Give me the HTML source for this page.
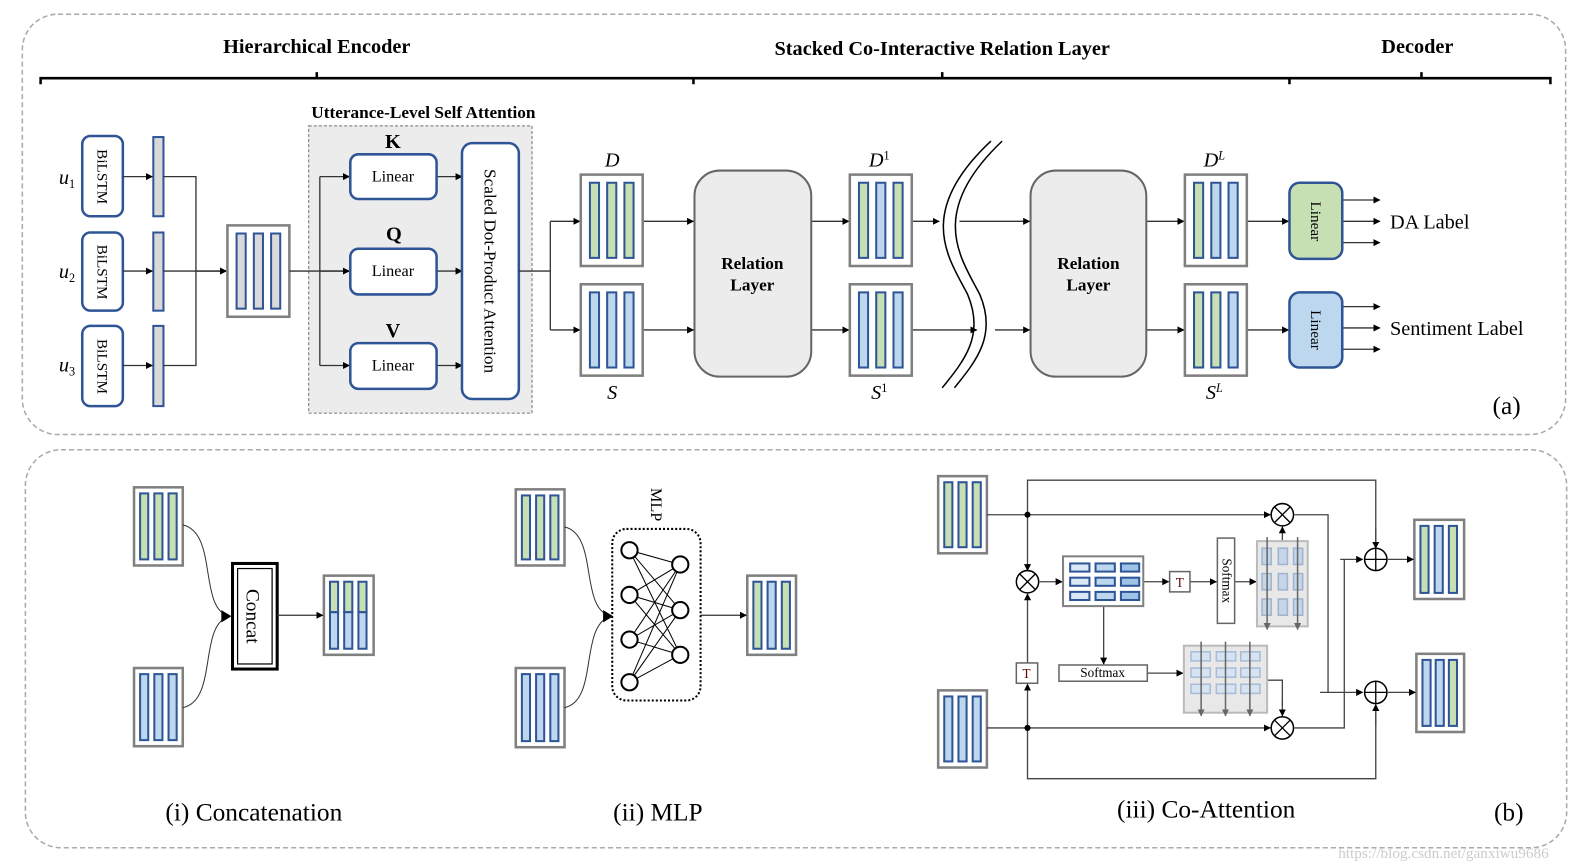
<!DOCTYPE html>
<html><head><meta charset="utf-8"><style>
html,body{margin:0;padding:0;background:#fff;}
svg{display:block;}
text{font-family:"Liberation Serif",serif;}
</style></head><body>
<svg width="1590" height="866" viewBox="0 0 1566 853" preserveAspectRatio="none" xmlns="http://www.w3.org/2000/svg">
<defs>
<marker id="a" viewBox="0 0 10 10" refX="9" refY="5" markerWidth="7" markerHeight="7" markerUnits="userSpaceOnUse" orient="auto"><path d="M0,0 L10,5 L0,10 z" fill="#000"/></marker>
<marker id="ag" viewBox="0 0 10 10" refX="9" refY="5" markerWidth="7" markerHeight="7" markerUnits="userSpaceOnUse" orient="auto"><path d="M0,0 L10,5 L0,10 z" fill="#666"/></marker>
</defs>
<g fill="none" stroke="#aaa" stroke-width="1.5" stroke-dasharray="5,3">
<rect x="22" y="14" width="1520" height="414" rx="35"/>
<rect x="25" y="443" width="1518" height="392" rx="35"/>
</g>
<g stroke="#000" stroke-width="2.5" fill="none">
<path d="M40,83 V77 H1527 V83"/>
<path d="M312,77 V71 M683,77 V83 M928,77 V71 M1270,77 V83 M1400,77 V71"/>
</g>
<g font-weight="bold" font-size="20" text-anchor="middle">
<text x="312" y="52">Hierarchical Encoder</text>
<text x="928" y="54">Stacked Co-Interactive Relation Layer</text>
<text x="1396" y="52">Decoder</text>
<text x="417" y="116" font-size="17">Utterance-Level Self Attention</text>
</g>
<g stroke="#2f5597" stroke-width="2.5" fill="#fff">
<rect x="81" y="134" width="40" height="79" rx="8"/>
<rect x="81" y="229" width="40" height="77" rx="8"/>
<rect x="81" y="321" width="40" height="79" rx="8"/>
</g>
<g font-size="15" text-anchor="middle">
<text transform="translate(96,174) rotate(90)">BiLSTM</text>
<text transform="translate(96,268) rotate(90)">BiLSTM</text>
<text transform="translate(96,361) rotate(90)">BiLSTM</text>
</g>
<g font-size="20" font-style="italic">
<text x="58" y="181">u<tspan font-size="12" dy="4" font-style="normal">1</tspan></text>
<text x="58" y="274">u<tspan font-size="12" dy="4" font-style="normal">2</tspan></text>
<text x="58" y="366">u<tspan font-size="12" dy="4" font-style="normal">3</tspan></text>
</g>
<g stroke="#2f5597" stroke-width="2" fill="#d9d9d9">
<rect x="151" y="135" width="10" height="78"/>
<rect x="151" y="229" width="10" height="77"/>
<rect x="151" y="321" width="10" height="79"/>
</g>
<g stroke="#333" stroke-width="1.3" fill="none">
<line x1="121" y1="174" x2="150" y2="174" marker-end="url(#a)"/>
<line x1="121" y1="267" x2="150" y2="267" marker-end="url(#a)"/>
<line x1="121" y1="360" x2="150" y2="360" marker-end="url(#a)"/>
<path d="M161,174 H193 V360 H161 M161,267 H222" />
<line x1="193" y1="267" x2="223" y2="267" marker-end="url(#a)"/>
</g>
<rect x="224" y="222" width="61" height="90" fill="#fff" stroke="#808080" stroke-width="2.5"/>
<g stroke="#2f5597" stroke-width="2" fill="#d9d9d9">
<rect x="233" y="230" width="9" height="74"/><rect x="250" y="230" width="9" height="74"/><rect x="267" y="230" width="9" height="74"/>
</g>
<rect x="304" y="124" width="220" height="283" fill="#ececec" stroke="#888" stroke-width="1.2" stroke-dasharray="3,2"/>
<g stroke="#333" stroke-width="1.3" fill="none">
<path d="M285,267 H344"/>
<path d="M315,174 V360"/>
<line x1="315" y1="174" x2="344" y2="174" marker-end="url(#a)"/>
<line x1="315" y1="267" x2="344" y2="267" marker-end="url(#a)"/>
<line x1="315" y1="360" x2="344" y2="360" marker-end="url(#a)"/>
<line x1="430" y1="174" x2="455" y2="174" marker-end="url(#a)"/>
<line x1="430" y1="267" x2="455" y2="267" marker-end="url(#a)"/>
<line x1="430" y1="360" x2="455" y2="360" marker-end="url(#a)"/>
</g>
<g stroke="#2f5597" stroke-width="2.5" fill="#fff">
<rect x="345" y="152" width="85" height="44" rx="8"/>
<rect x="345" y="245" width="85" height="45" rx="8"/>
<rect x="345" y="338" width="85" height="45" rx="8"/>
<rect x="455" y="141" width="56" height="252" rx="10"/>
</g>
<g font-size="16" text-anchor="middle">
<text x="387" y="179">Linear</text><text x="387" y="272">Linear</text><text x="387" y="365">Linear</text>
<text transform="translate(477,267) rotate(90)" font-size="17">Scaled Dot-Product Attention</text>
</g>
<g font-size="20" font-weight="bold" text-anchor="middle">
<text x="387" y="146">K</text><text x="388" y="237">Q</text><text x="387" y="332">V</text>
</g>
<g stroke="#333" stroke-width="1.3" fill="none">
<path d="M511,267 H542 V218 M542,267 V325"/>
<line x1="542" y1="218" x2="571" y2="218" marker-end="url(#a)"/>
<line x1="542" y1="325" x2="571" y2="325" marker-end="url(#a)"/>
<line x1="633" y1="218" x2="683" y2="218" marker-end="url(#a)"/>
<line x1="633" y1="325" x2="683" y2="325" marker-end="url(#a)"/>
<line x1="799" y1="218" x2="836" y2="218" marker-end="url(#a)"/>
<line x1="799" y1="325" x2="836" y2="325" marker-end="url(#a)"/>
<line x1="898" y1="218" x2="925" y2="218" marker-end="url(#a)"/>
<line x1="945" y1="218" x2="1014" y2="218" marker-end="url(#a)"/>
<line x1="898" y1="325" x2="962" y2="325" marker-end="url(#a)"/>
<line x1="980" y1="325" x2="1014" y2="325" marker-end="url(#a)"/>
<line x1="1129" y1="218" x2="1166" y2="218" marker-end="url(#a)"/>
<line x1="1129" y1="325" x2="1166" y2="325" marker-end="url(#a)"/>
<line x1="1228" y1="218" x2="1269" y2="218" marker-end="url(#a)"/>
<line x1="1228" y1="325" x2="1269" y2="325" marker-end="url(#a)"/>
<line x1="1322" y1="197" x2="1359" y2="197" marker-end="url(#a)"/>
<line x1="1322" y1="218" x2="1359" y2="218" marker-end="url(#a)"/>
<line x1="1322" y1="239" x2="1359" y2="239" marker-end="url(#a)"/>
<line x1="1322" y1="302" x2="1359" y2="302" marker-end="url(#a)"/>
<line x1="1322" y1="323" x2="1359" y2="323" marker-end="url(#a)"/>
<line x1="1322" y1="344" x2="1359" y2="344" marker-end="url(#a)"/>
</g>
<g stroke="#808080" stroke-width="2.5" fill="#fff">
<rect x="572" y="172" width="61" height="90"/><rect x="572" y="280" width="61" height="90"/>
<rect x="837" y="172" width="61" height="90"/><rect x="837" y="280" width="61" height="90"/>
<rect x="1167" y="172" width="61" height="90"/><rect x="1167" y="280" width="61" height="90"/>
</g>
<g stroke="#2f5597" stroke-width="2">
<rect x="581" y="180" width="9" height="74" fill="#c6e0b4"/><rect x="598" y="180" width="9" height="74" fill="#c6e0b4"/><rect x="615" y="180" width="9" height="74" fill="#c6e0b4"/>
<rect x="581" y="288" width="9" height="74" fill="#bdd7ee"/><rect x="598" y="288" width="9" height="74" fill="#bdd7ee"/><rect x="615" y="288" width="9" height="74" fill="#bdd7ee"/>
<rect x="846" y="180" width="9" height="74" fill="#c6e0b4"/><rect x="863" y="180" width="9" height="74" fill="#bdd7ee"/><rect x="880" y="180" width="9" height="74" fill="#c6e0b4"/>
<rect x="846" y="288" width="9" height="74" fill="#bdd7ee"/><rect x="863" y="288" width="9" height="74" fill="#c6e0b4"/><rect x="880" y="288" width="9" height="74" fill="#bdd7ee"/>
<rect x="1176" y="180" width="9" height="74" fill="#c6e0b4"/><rect x="1193" y="180" width="9" height="74" fill="#bdd7ee"/><rect x="1210" y="180" width="9" height="74" fill="#bdd7ee"/>
<rect x="1176" y="288" width="9" height="74" fill="#c6e0b4"/><rect x="1193" y="288" width="9" height="74" fill="#c6e0b4"/><rect x="1210" y="288" width="9" height="74" fill="#bdd7ee"/>
</g>
<g font-size="20" font-style="italic" text-anchor="middle">
<text x="603" y="164">D</text><text x="603" y="393">S</text>
<text x="866" y="164">D<tspan font-size="12" dy="-7" font-style="normal">1</tspan></text>
<text x="866" y="393">S<tspan font-size="12" dy="-7" font-style="normal">1</tspan></text>
<text x="1196" y="164">D<tspan font-size="12" dy="-7">L</tspan></text>
<text x="1196" y="393">S<tspan font-size="12" dy="-7">L</tspan></text>
</g>
<g fill="#ececec" stroke="#666" stroke-width="2">
<rect x="684" y="168" width="115" height="203" rx="25"/>
<rect x="1015" y="168" width="114" height="203" rx="25"/>
</g>
<g font-size="17" font-weight="bold" text-anchor="middle">
<text x="741" y="265">Relation</text><text x="741" y="286">Layer</text>
<text x="1072" y="265">Relation</text><text x="1072" y="286">Layer</text>
</g>
<g stroke="#000" stroke-width="1.5" fill="none">
<path d="M976,139 C900,210 935,255 953,290 C970,330 950,355 928,382"/>
<path d="M987,139 C912,210 947,255 965,290 C982,330 962,355 940,382"/>
</g>
<rect x="1270" y="180" width="52" height="75" rx="10" fill="#c6e0b4" stroke="#2f5597" stroke-width="2.5"/>
<rect x="1270" y="288" width="52" height="74" rx="10" fill="#bdd7ee" stroke="#2f5597" stroke-width="2.5"/>
<g font-size="15" text-anchor="middle">
<text transform="translate(1291,218) rotate(90)">Linear</text>
<text transform="translate(1291,325) rotate(90)">Linear</text>
</g>
<g font-size="20">
<text x="1369" y="225">DA Label</text>
<text x="1369" y="330">Sentiment Label</text>
<text x="1470" y="408" font-size="25">(a)</text>
</g>
<g stroke="#808080" stroke-width="2.5" fill="#fff">
<rect x="132" y="480" width="48" height="77"/><rect x="132" y="658" width="48" height="77"/>
<rect x="319" y="567" width="49" height="78"/>
<rect x="508" y="482" width="48" height="75"/><rect x="508" y="658" width="48" height="78"/>
<rect x="736" y="567" width="48" height="78"/>
<rect x="924" y="469" width="48" height="76"/><rect x="924" y="680" width="48" height="76"/>
<rect x="1393" y="512" width="49" height="78"/><rect x="1395" y="644" width="47" height="77"/>
</g>
<g stroke="#2f5597" stroke-width="2">
<rect x="138" y="486" width="8" height="65" fill="#c6e0b4"/><rect x="152" y="486" width="8" height="65" fill="#c6e0b4"/><rect x="166" y="486" width="8" height="65" fill="#c6e0b4"/>
<rect x="138" y="664" width="8" height="65" fill="#bdd7ee"/><rect x="152" y="664" width="8" height="65" fill="#bdd7ee"/><rect x="166" y="664" width="8" height="65" fill="#bdd7ee"/>
<rect x="514" y="488" width="8" height="63" fill="#c6e0b4"/><rect x="528" y="488" width="8" height="63" fill="#c6e0b4"/><rect x="542" y="488" width="8" height="63" fill="#c6e0b4"/>
<rect x="514" y="664" width="8" height="66" fill="#bdd7ee"/><rect x="528" y="664" width="8" height="66" fill="#bdd7ee"/><rect x="542" y="664" width="8" height="66" fill="#bdd7ee"/>
<rect x="742" y="573" width="8" height="66" fill="#c6e0b4"/><rect x="756" y="573" width="8" height="66" fill="#bdd7ee"/><rect x="770" y="573" width="8" height="66" fill="#c6e0b4"/>
<rect x="930" y="475" width="8" height="64" fill="#c6e0b4"/><rect x="944" y="475" width="8" height="64" fill="#c6e0b4"/><rect x="958" y="475" width="8" height="64" fill="#c6e0b4"/>
<rect x="930" y="686" width="8" height="64" fill="#bdd7ee"/><rect x="944" y="686" width="8" height="64" fill="#bdd7ee"/><rect x="958" y="686" width="8" height="64" fill="#bdd7ee"/>
<rect x="1399" y="518" width="8" height="66" fill="#c6e0b4"/><rect x="1413" y="518" width="8" height="66" fill="#bdd7ee"/><rect x="1427" y="518" width="8" height="66" fill="#c6e0b4"/>
<rect x="1401" y="650" width="8" height="65" fill="#bdd7ee"/><rect x="1414" y="650" width="8" height="65" fill="#bdd7ee"/><rect x="1427" y="650" width="8" height="65" fill="#c6e0b4"/>
<rect x="325" y="573" width="8" height="30" fill="#c6e0b4"/><rect x="325" y="603" width="8" height="36" fill="#bdd7ee"/>
<rect x="339" y="573" width="8" height="30" fill="#c6e0b4"/><rect x="339" y="603" width="8" height="36" fill="#bdd7ee"/>
<rect x="353" y="573" width="8" height="30" fill="#c6e0b4"/><rect x="353" y="603" width="8" height="36" fill="#bdd7ee"/>
</g>
<g stroke="#333" stroke-width="1" fill="none">
<path d="M180,517 C215,525 195,600 226,607"/>
<path d="M180,697 C215,690 195,615 226,607"/>
<path d="M556,519 C590,527 570,600 602,607"/>
<path d="M556,697 C590,690 570,615 602,607"/>
</g>
<path d="M218,601 L228,607 L218,613 z" fill="#000"/>
<path d="M594,601 L604,607 L594,613 z" fill="#000"/>
<rect x="229" y="555" width="44" height="104" fill="#fff" stroke="#000" stroke-width="3"/>
<rect x="234" y="560" width="34" height="94" fill="none" stroke="#000" stroke-width="1.2"/>
<text transform="translate(243,607) rotate(90)" font-size="19" text-anchor="middle">Concat</text>
<g stroke="#333" stroke-width="1.3">
<line x1="273" y1="606" x2="318" y2="606" marker-end="url(#a)"/>
<line x1="690" y1="606" x2="735" y2="606" marker-end="url(#a)"/>
</g>
<rect x="603" y="521" width="87" height="169" rx="14" fill="none" stroke="#000" stroke-width="2" stroke-dasharray="2,2"/>
<text transform="translate(641,497) rotate(90)" font-size="16" text-anchor="middle">MLP</text>
<g stroke="#000" stroke-width="1">
<path d="M620,542 L670,556 M620,542 L670,601 M620,542 L670,645 M620,586 L670,556 M620,586 L670,601 M620,586 L670,645 M620,630 L670,556 M620,630 L670,601 M620,630 L670,645 M620,672 L670,556 M620,672 L670,601 M620,672 L670,645"/>
</g>
<g stroke="#000" stroke-width="2" fill="#fff">
<circle cx="620" cy="542" r="8"/><circle cx="620" cy="586" r="8"/><circle cx="620" cy="630" r="8"/><circle cx="620" cy="672" r="8"/>
<circle cx="670" cy="556" r="8"/><circle cx="670" cy="601" r="8"/><circle cx="670" cy="645" r="8"/>
</g>
<g stroke="#444" stroke-width="1.3" fill="none">
<path d="M1012,507 V473 H1355 V536"/>
<line x1="1355" y1="520" x2="1355" y2="540" marker-end="url(#a)"/>
<line x1="972" y1="507" x2="1251" y2="507" marker-end="url(#a)"/>
<line x1="1012" y1="507" x2="1012" y2="562" marker-end="url(#a)"/>
<line x1="972" y1="717" x2="1251" y2="717" marker-end="url(#a)"/>
<path d="M1012,717 V767 H1355 V700"/>
<line x1="1355" y1="715" x2="1355" y2="694" marker-end="url(#a)"/>
<line x1="1012" y1="717" x2="1012" y2="674" marker-end="url(#a)"/>
<line x1="1012" y1="653" x2="1012" y2="585" marker-end="url(#a)"/>
<line x1="1024" y1="573" x2="1046" y2="573" marker-end="url(#a)"/>
<line x1="1126" y1="573" x2="1151" y2="573" marker-end="url(#a)"/>
<line x1="1172" y1="573" x2="1198" y2="573" marker-end="url(#a)"/>
<line x1="1216" y1="573" x2="1237" y2="573" marker-end="url(#a)"/>
<line x1="1087" y1="597" x2="1087" y2="654" marker-end="url(#a)"/>
<line x1="1130" y1="663" x2="1165" y2="663" marker-end="url(#a)"/>
<path d="M1248,670 H1263 V695"/>
<line x1="1263" y1="690" x2="1263" y2="705" marker-end="url(#a)"/>
<line x1="1263" y1="540" x2="1263" y2="519" marker-end="url(#a)"/>
<path d="M1275,507 H1308 V682"/>
<line x1="1300" y1="682" x2="1342" y2="682" marker-end="url(#a)"/>
<path d="M1275,717 H1324 V551"/>
<line x1="1320" y1="551" x2="1342" y2="551" marker-end="url(#a)"/>
<line x1="1367" y1="551" x2="1392" y2="551" marker-end="url(#a)"/>
<line x1="1367" y1="682" x2="1394" y2="682" marker-end="url(#a)"/>
</g>
<circle cx="1012" cy="507" r="3" fill="#000"/><circle cx="1012" cy="717" r="3" fill="#000"/>
<g stroke="#000" stroke-width="1.5" fill="#fff">
<circle cx="1012" cy="573" r="11"/><circle cx="1263" cy="507" r="11"/><circle cx="1263" cy="717" r="11"/>
<circle cx="1355" cy="551" r="11"/><circle cx="1355" cy="682" r="11"/>
</g>
<g stroke="#000" stroke-width="1.3">
<path d="M1004,565 L1020,581 M1020,565 L1004,581"/>
<path d="M1255,499 L1271,515 M1271,499 L1255,515"/>
<path d="M1255,709 L1271,725 M1271,709 L1255,725"/>
<path d="M1344,551 H1366 M1355,540 V562 M1344,682 H1366 M1355,671 V693"/>
</g>
<rect x="1047" y="548" width="79" height="49" fill="#fff" stroke="#808080" stroke-width="2"/>
<g stroke="#2f5597" stroke-width="2">
<rect x="1054" y="555" width="19" height="8" fill="#dbe8f5"/><rect x="1079" y="555" width="19" height="8" fill="#bdd7ee"/><rect x="1104" y="555" width="18" height="8" fill="#9dc3e6"/>
<rect x="1054" y="569" width="19" height="8" fill="#dbe8f5"/><rect x="1079" y="569" width="19" height="8" fill="#bdd7ee"/><rect x="1104" y="569" width="18" height="8" fill="#9dc3e6"/>
<rect x="1054" y="583" width="19" height="8" fill="#dbe8f5"/><rect x="1079" y="583" width="19" height="8" fill="#bdd7ee"/><rect x="1104" y="583" width="18" height="8" fill="#9dc3e6"/>
</g>
<g stroke="#666" stroke-width="1.5" fill="#fff">
<rect x="1152" y="563" width="20" height="20"/>
<rect x="1001" y="653" width="21" height="20"/>
<rect x="1199" y="530" width="17" height="84"/>
<rect x="1043" y="655" width="87" height="16"/>
</g>
<g font-size="13" text-anchor="middle">
<text x="1162" y="578" fill="#600">T</text>
<text x="1011" y="668" fill="#600">T</text>
<text transform="translate(1204,572) rotate(90)">Softmax</text>
<text x="1086" y="667">Softmax</text>
</g>
<rect x="1238" y="533" width="50" height="84" fill="#e8e8e8" stroke="#bbb" stroke-width="2"/>
<g fill="#c5d6ea" stroke="#9fb3cc" stroke-width="1.5">
<rect x="1243" y="540" width="9" height="16"/><rect x="1259" y="540" width="9" height="16"/><rect x="1274" y="540" width="9" height="16"/>
<rect x="1243" y="565" width="9" height="16"/><rect x="1259" y="565" width="9" height="16"/><rect x="1274" y="565" width="9" height="16"/>
<rect x="1243" y="590" width="9" height="16"/><rect x="1259" y="590" width="9" height="16"/><rect x="1274" y="590" width="9" height="16"/>
</g>
<rect x="1166" y="636" width="82" height="66" fill="#e8e8e8" stroke="#bbb" stroke-width="2"/>
<g fill="#d6e3f2" stroke="#a8bcd6" stroke-width="1.5">
<rect x="1173" y="642" width="19" height="9"/><rect x="1198" y="642" width="19" height="9"/><rect x="1222" y="642" width="19" height="9"/>
<rect x="1173" y="658" width="19" height="9"/><rect x="1198" y="658" width="19" height="9"/><rect x="1222" y="658" width="19" height="9"/>
<rect x="1173" y="674" width="19" height="9"/><rect x="1198" y="674" width="19" height="9"/><rect x="1222" y="674" width="19" height="9"/>
</g>
<g stroke="#666" stroke-width="1.5">
<line x1="1248" y1="529" x2="1248" y2="620" marker-end="url(#ag)"/>
<line x1="1278" y1="529" x2="1278" y2="620" marker-end="url(#ag)"/>
<line x1="1183" y1="632" x2="1183" y2="705" marker-end="url(#ag)"/>
<line x1="1207" y1="632" x2="1207" y2="705" marker-end="url(#ag)"/>
<line x1="1231" y1="632" x2="1231" y2="705" marker-end="url(#ag)"/>
</g>
<g font-size="25" text-anchor="middle">
<text x="250" y="808">(i) Concatenation</text>
<text x="648" y="808">(ii) MLP</text>
<text x="1188" y="805">(iii) Co-Attention</text>
<text x="1486" y="808" font-size="25">(b)</text>
</g>
<text x="1318" y="845" font-size="15" fill="#ccc" font-family="Liberation Sans, sans-serif">https://blog.csdn.net/ganxiwu9686</text>
</svg>
</body></html>
